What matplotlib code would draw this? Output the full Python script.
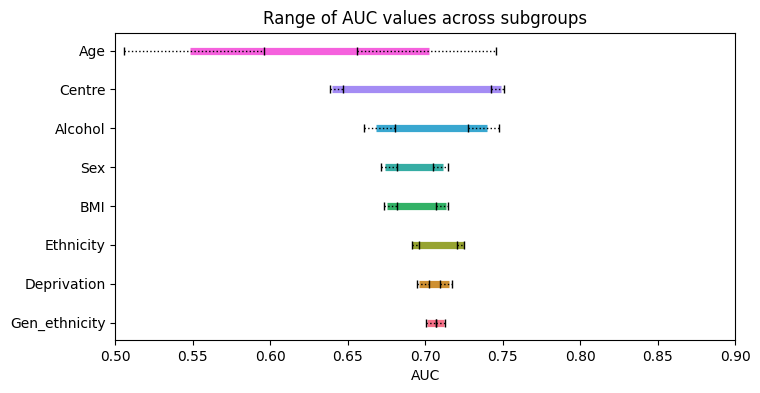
import matplotlib
matplotlib.use("Agg")
import matplotlib.pyplot as plt
import seaborn as sns
import numpy as np

# bottom to top
groups = ["Gen_ethnicity", "Deprivation", "Ethnicity", "BMI", "Sex", "Alcohol", "Centre", "Age"]
min_auc = [0.7013, 0.6961, 0.6916, 0.6755, 0.6742, 0.6684, 0.6400, 0.5484]
min_lo = [0.7006, 0.6946, 0.6912, 0.6731, 0.6712, 0.6604, 0.6383, 0.5054]
min_hi = [0.7067, 0.7024, 0.6957, 0.6817, 0.6817, 0.6802, 0.6467, 0.5957]
max_auc = [0.7121, 0.7155, 0.7247, 0.7131, 0.7116, 0.7398, 0.7490, 0.7026]
max_lo = [0.7067, 0.7093, 0.7202, 0.7067, 0.7047, 0.7273, 0.7421, 0.6559]
max_hi = [0.7125, 0.7174, 0.7249, 0.7146, 0.7146, 0.7473, 0.7505, 0.7454]

colors = sns.color_palette("husl", len(groups))

fig = plt.figure(figsize=(7.6, 3.93), dpi=100)
ax = fig.add_axes([115.3 / 760, 1 - 340 / 393, (735.3 - 115.3) / 760, (340 - 32.7) / 393])

y = np.arange(len(groups))
for i in range(len(groups)):
    ax.hlines(y[i], min_auc[i], max_auc[i], color=colors[i], linewidth=5.2, zorder=1)
    for c, lo, hi in [(min_auc[i], min_lo[i], min_hi[i]), (max_auc[i], max_lo[i], max_hi[i])]:
        eb = ax.errorbar(c, y[i], xerr=[[c - lo], [hi - c]], fmt="none", ecolor="black",
                         elinewidth=1, capsize=3, capthick=1, zorder=2)
        eb[2][0].set_linestyle(":")

ax.set_yticks(y)
ax.set_yticklabels(groups)
ax.set_xlim(0.5, 0.9)
ax.set_xticks(np.arange(0.5, 0.901, 0.05))
ax.set_ylim(-0.445, 7.46)
ax.set_xlabel("AUC")
ax.set_title("Range of AUC values across subgroups")
fig.savefig("out.png", dpi=100)
